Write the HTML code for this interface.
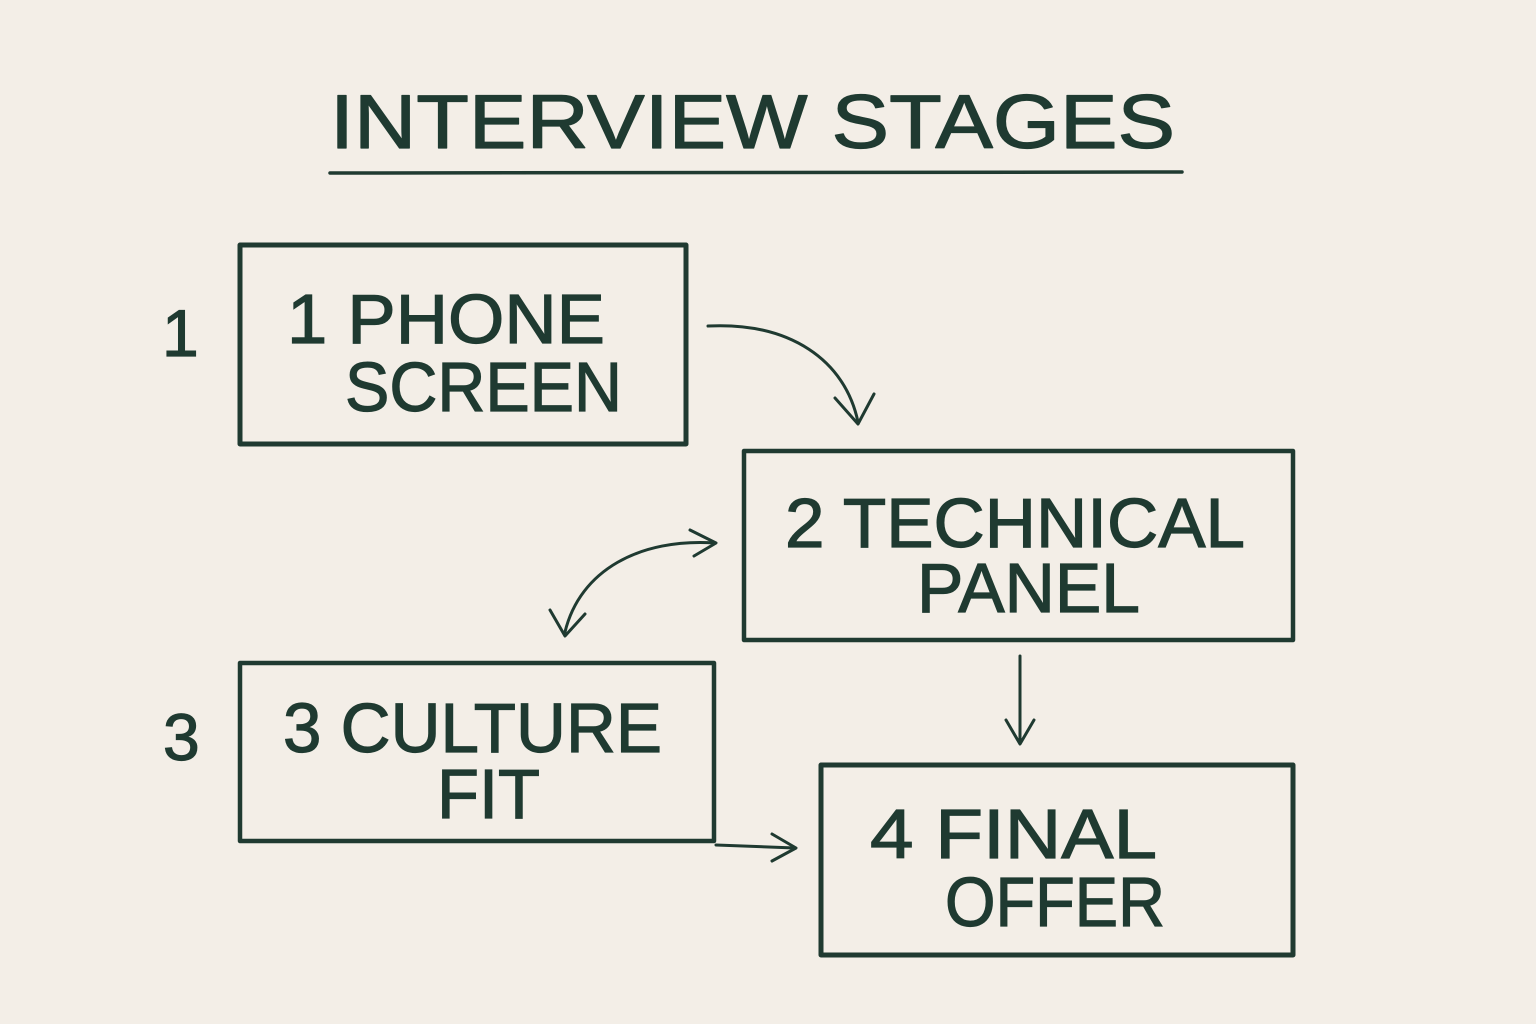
<!DOCTYPE html>
<html><head><meta charset="utf-8"><style>
html,body{margin:0;padding:0;background:#f3eee7;}
svg{display:block}
text{font-family:"Liberation Sans",sans-serif;fill:#1f3a31;stroke:#1f3a31;stroke-width:1.2;}
</style></head><body>
<svg width="1536" height="1024" viewBox="0 0 1536 1024" xmlns="http://www.w3.org/2000/svg">
<rect width="1536" height="1024" fill="#f3eee7"/>
<defs>
<marker id="ah" markerWidth="12" markerHeight="12" refX="6" refY="6" orient="auto" markerUnits="userSpaceOnUse" viewBox="0 0 12 12">
</marker>
</defs>
<g fill="none" stroke="#1f3a31" stroke-linecap="round" stroke-linejoin="round">
<!-- title -->
<text x="330" y="148" font-size="76" textLength="845" lengthAdjust="spacingAndGlyphs">INTERVIEW STAGES</text>
<line x1="330" y1="173" x2="1182" y2="172" stroke-width="3.5"/>
<!-- boxes -->
<rect x="240" y="245" width="446" height="199" stroke-width="5"/>
<rect x="744" y="451" width="549" height="189" stroke-width="4.5"/>
<rect x="240" y="663" width="474" height="178" stroke-width="4.5"/>
<rect x="821" y="765" width="472" height="190" stroke-width="5"/>
<!-- arrows -->
<path d="M708 326 C790 322 845 360 858 422" stroke-width="3"/>
<path d="M835 398 L858 424 L874 394" stroke-width="3"/>
<path d="M715 543 C640 538 580 570 565 632" stroke-width="3"/>
<path d="M690 530 L716 543 L694 556" stroke-width="3"/>
<path d="M550 610 L565 636 L585 614" stroke-width="3"/>
<path d="M1020 656 L1020 742" stroke-width="3"/>
<path d="M1006 720 L1020 744 L1034 720" stroke-width="3"/>
<path d="M716 845 L795 848" stroke-width="3"/>
<path d="M772 834 L796 848 L772 861" stroke-width="3"/>
</g>
<text x="287" y="343" font-size="70" textLength="318" lengthAdjust="spacingAndGlyphs">1 PHONE</text>
<text x="345" y="411" font-size="70" textLength="277" lengthAdjust="spacingAndGlyphs">SCREEN</text>
<text x="785" y="547" font-size="70" textLength="460" lengthAdjust="spacingAndGlyphs">2 TECHNICAL</text>
<text x="917" y="612" font-size="70" textLength="223" lengthAdjust="spacingAndGlyphs">PANEL</text>
<text x="283" y="752" font-size="70" textLength="379" lengthAdjust="spacingAndGlyphs">3 CULTURE</text>
<text x="437" y="818" font-size="70" textLength="103" lengthAdjust="spacingAndGlyphs">FIT</text>
<text x="870" y="858" font-size="70" textLength="287" lengthAdjust="spacingAndGlyphs">4 FINAL</text>
<text x="945" y="926" font-size="70" textLength="220" lengthAdjust="spacingAndGlyphs">OFFER</text>
<text x="162" y="356" font-size="66">1</text>
<text x="163" y="760" font-size="66">3</text>
</svg>
</body></html>
